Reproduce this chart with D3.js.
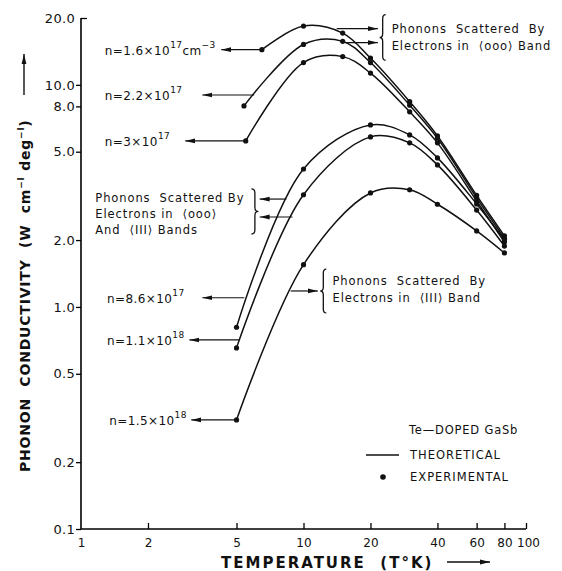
<!DOCTYPE html>
<html>
<head>
<meta charset="utf-8">
<script src="https://cdn.jsdelivr.net/npm/d3@7"></script>
<style>
body { margin: 0; background: #fff; }
text { font-family: "DejaVu Sans", sans-serif; fill: #111; }
</style>
</head>
<body>
<div id="chart"></div>
<script>
// values (T in K, conductivity in W cm-1 deg-1)
var t1 = [6.5, 10, 15, 20, 30, 40, 60, 80];
var k1 = [14.4, 18.4, 17.1, 13.2, 8.4, 5.89, 3.18, 2.09];
var t2 = [5.4, 10, 15, 20, 30, 40, 60, 80];
var k2 = [8.04, 15.2, 15.7, 12.6, 8.1, 5.75, 3.1, 2.04];
var t3 = [5.5, 10, 15, 20, 30, 40, 60, 80];
var k3 = [5.59, 12.6, 13.4, 11.3, 7.56, 5.48, 3.0, 1.96];
var t4 = [5, 10, 20, 30, 40, 60, 80];
var k4 = [0.81, 4.18, 6.6, 5.95, 4.69, 2.91, 2.01];
var t5 = [5, 10, 20, 30, 40, 60, 80];
var k5 = [0.654, 3.2, 5.83, 5.48, 4.36, 2.73, 1.88];
var t6 = [5, 10, 20, 30, 40, 60, 80];
var k6 = [0.31, 1.55, 3.26, 3.37, 2.9, 2.2, 1.75];

var mantissa = ["1.6", "2.2", "3", "8.6", "1.1", "1.5"];
var exponent = ["17", "17", "17", "17", "18", "18"];

var xTicks = [1, 2, 5, 10, 20, 40, 60, 80, 100];
var yTicks = [0.1, 0.2, 0.5, 1, 2, 5, 8, 10, 20];
var yTickLabels = ["0.1", "0.2", "0.5", "1.0", "2.0", "5.0", "8.0", "10.0", "20.0"];

var W = 562, H = 571;
var svg = d3.select("#chart").append("svg").attr("width", W).attr("height", H);

var x = d3.scaleLog().domain([1, 100]).range([81, 526]);
var y = d3.scaleLog().domain([0.1, 20]).range([529, 18]);

svg.append("defs").append("marker")
    .attr("id", "ah").attr("viewBox", "0 0 10 6")
    .attr("refX", 10).attr("refY", 3)
    .attr("markerWidth", 10).attr("markerHeight", 6)
    .attr("markerUnits", "userSpaceOnUse").attr("orient", "auto")
  .append("path").attr("d", "M0,0.6 L10,3 L0,5.4 Z").attr("fill", "#111");

// axes
var xAxis = d3.axisBottom(x).tickValues(xTicks).tickSize(-6).tickPadding(9)
    .tickFormat(d3.format("d"));
var gx = svg.append("g").attr("transform", "translate(0," + y(0.1) + ")").call(xAxis);
gx.select(".domain").attr("stroke-width", 1.6).attr("d", "M" + x(1) + ",0H" + x(100));
gx.selectAll(".tick line").attr("stroke-width", 1.3);
gx.selectAll(".tick").filter(function(d){ return d == 1; }).select("line").remove();
gx.selectAll("text").style("font-size", "12px").style("letter-spacing", "0px")
    .style("font-family", "DejaVu Sans");
gx.selectAll(".tick").filter(function(d){ return d == 100; }).select("text").attr("dx", 2);

var yAxis = d3.axisLeft(y).tickValues(yTicks).tickSize(5).tickPadding(1)
    .tickFormat(function(d, i){ return yTickLabels[i]; });
var gy = svg.append("g").attr("transform", "translate(" + x(1) + ",0)").call(yAxis);
gy.select(".domain").attr("stroke-width", 1.6).attr("d", "M0," + y(0.1) + "V" + y(20));
gy.selectAll(".tick line").attr("stroke-width", 1.3);
gy.selectAll(".tick").filter(function(d){ return d == 20; }).select("line").attr("x2", 6);
gy.selectAll("text").style("font-size", "13px").style("letter-spacing", "0.3px")
    .style("font-family", "DejaVu Sans");

// curves and points
var series = [[t1, k1], [t2, k2], [t3, k3], [t4, k4], [t5, k5], [t6, k6]];
var line = d3.line().x(function(d){ return x(d[0]); }).y(function(d){ return y(d[1]); })
    .curve(d3.curveCatmullRom.alpha(0.5));

series.forEach(function(s){
  var pts = s[0].map(function(t, i){ return [t, s[1][i]]; });
  svg.append("path").datum(pts).attr("d", line)
      .attr("fill", "none").attr("stroke", "#111").attr("stroke-width", 1.5);
  svg.selectAll(null).data(pts).enter().append("circle")
      .attr("cx", function(d){ return x(d[0]); })
      .attr("cy", function(d){ return y(d[1]); })
      .attr("r", 2.6).attr("fill", "#111");
});

// concentration labels with arrows (positions in data units)
var labT = [1.28, 1.28, 1.28, 1.31, 1.31, 1.34];
var labK = [k1[0], 9.0, k3[0], 1.10, 0.71, k6[0]];
var tailT = [t1[0], 6.0, t3[0], 5.42, 5.15, t6[0]];
var headT = [4.27, 3.51, 2.94, 3.51, 3.07, 3.13];

mantissa.forEach(function(m, i){
  var yy = y(labK[i]);
  svg.append("line").attr("x1", x(tailT[i])).attr("y1", yy)
      .attr("x2", x(headT[i])).attr("y2", yy)
      .attr("stroke", "#111").attr("stroke-width", 1.2).attr("marker-end", "url(#ah)");
  var tx = svg.append("text").attr("x", x(labT[i])).attr("y", yy + 5)
      .style("font-size", "12px").style("letter-spacing", "0.4px");
  tx.append("tspan").text("n=" + m + "×10");
  tx.append("tspan").attr("dy", -7).style("font-size", "9px").text(exponent[i]);
  if (i == 0) {
    tx.append("tspan").attr("dy", 7).text("cm");
    tx.append("tspan").attr("dy", -7).style("font-size", "9px").text("−3");
  }
});

// braces
function brace(x0, y0, y1, w, dir) {
  // dir = 1 : "{" tip on the left ; dir = -1 : "}" tip on the right
  var m = (y0 + y1) / 2, xa = x0 + dir * w, xb = x0 + dir * w / 2, r = 4;
  return "M" + xa + "," + y0 +
    "Q" + xb + "," + y0 + " " + xb + "," + (y0 + r) +
    "L" + xb + "," + (m - r) +
    "Q" + xb + "," + m + " " + x0 + "," + m +
    "Q" + xb + "," + m + " " + xb + "," + (m + r) +
    "L" + xb + "," + (y1 - r) +
    "Q" + xb + "," + y1 + " " + xa + "," + y1;
}
function arrow(t1_, t2_, k_) {
  svg.append("line").attr("x1", x(t1_)).attr("y1", y(k_))
      .attr("x2", x(t2_)).attr("y2", y(k_))
      .attr("stroke", "#111").attr("stroke-width", 1.2).attr("marker-end", "url(#ah)");
}
function block(lines, tx, kFirst, step) {
  lines.forEach(function(s, i){
    svg.append("text").attr("x", x(tx)).attr("y", y(kFirst) + i * step + 4)
        .attr("xml:space", "preserve")
        .style("font-size", "11.5px").style("letter-spacing", "0.9px").text(s);
  });
}

// top right
svg.append("path").attr("d", brace(x(22.0), y(20.7), y(12.9), 6, 1))
    .attr("fill", "none").attr("stroke", "#111").attr("stroke-width", 1.3);
arrow(14.1, 21.6, 17.9);
arrow(15.5, 21.6, 15.5);
block(["Phonons  Scattered  By", "Electrons in  \u27E8ooo\u27E9 Band"], 24.9, 17.9, 17);

// left middle
svg.append("path").attr("d", brace(x(6.27), y(3.4), y(2.13), 7, -1))
    .attr("fill", "none").attr("stroke", "#111").attr("stroke-width", 1.3);
arrow(8.38, 6.35, 3.06);
arrow(8.92, 6.35, 2.54);
block(["Phonons  Scattered By", "Electrons in  \u27E8ooo\u27E9", "And  \u27E8III\u27E9 Bands"], 1.16, 3.1, 16);

// right middle
svg.append("path").attr("d", brace(x(11.9), y(1.48), y(0.94), 6, 1))
    .attr("fill", "none").attr("stroke", "#111").attr("stroke-width", 1.3);
arrow(8.76, 11.6, 1.18);
block(["Phonons  Scattered  By", "Electrons in  \u27E8III\u27E9 Band"], 13.5, 1.31, 17);

// legend
var lg = svg.append("g");
lg.append("text").attr("x", 409).attr("y", 434).style("font-size", "11.5px")
    .style("letter-spacing", "0.8px").text("Te\u2014DOPED GaSb");
lg.append("line").attr("x1", 366).attr("x2", 399).attr("y1", 455).attr("y2", 455)
    .attr("stroke", "#111").attr("stroke-width", 1.3);
lg.append("text").attr("x", 410).attr("y", 459).style("font-size", "11.5px")
    .style("letter-spacing", "1px").text("THEORETICAL");
lg.append("circle").attr("cx", 383).attr("cy", 477).attr("r", 2.8).attr("fill", "#111");
lg.append("text").attr("x", 410).attr("y", 481).style("font-size", "11.5px")
    .style("letter-spacing", "1px").text("EXPERIMENTAL");

// axis titles
svg.append("text").attr("x", 221).attr("y", 568).attr("xml:space", "preserve")
    .style("font-size", "15px").style("font-weight", "bold").style("letter-spacing", "2px")
    .text("TEMPERATURE  (T\u00B0K)");
svg.append("line").attr("x1", 447).attr("x2", 490).attr("y1", 562).attr("y2", 562)
    .attr("stroke", "#111").attr("stroke-width", 1.4).attr("marker-end", "url(#ah)");

var yt = svg.append("text").attr("transform", "translate(30,472) rotate(-90)")
    .attr("xml:space", "preserve")
    .style("font-size", "14px").style("font-weight", "bold").style("letter-spacing", "0.8px");
yt.append("tspan").text("PHONON  CONDUCTIVITY  (W  cm");
yt.append("tspan").attr("dy", -6).style("font-size", "9px").text("\u2212l");
yt.append("tspan").attr("dy", 6).text(" deg");
yt.append("tspan").attr("dy", -6).style("font-size", "9px").text("\u2212l");
yt.append("tspan").attr("dy", 6).text(")");
svg.append("line").attr("x1", 24).attr("x2", 24).attr("y1", 95).attr("y2", 54)
    .attr("stroke", "#111").attr("stroke-width", 1.4).attr("marker-end", "url(#ah)");
</script>
</body>
</html>
